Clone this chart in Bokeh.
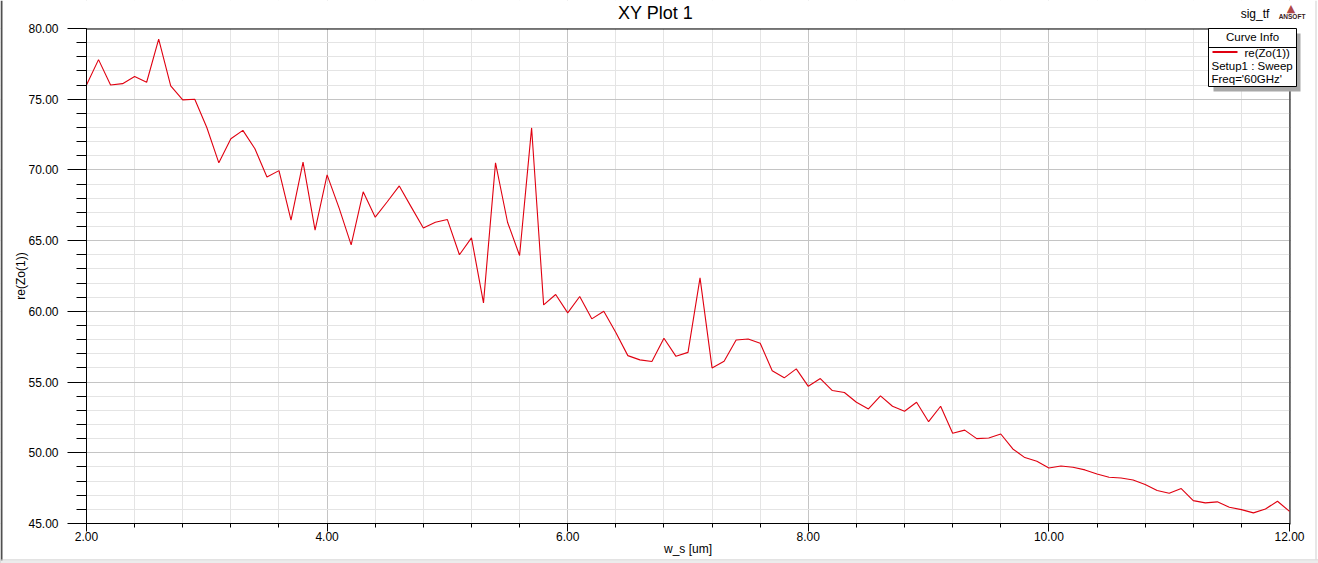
import math
from bokeh.plotting import figure
from bokeh.models import FixedTicker, PrintfTickFormatter, Label, BoxAnnotation, Range1d
from bokeh.embed import file_html
from bokeh.resources import INLINE

# ---------------- data ----------------
x_ws = [round(2.0 + 0.1 * i, 1) for i in range(101)]
re_zo = [
    76.0, 77.8, 76.0, 76.1, 76.6, 76.2, 79.25, 75.95, 74.95, 75.0,
    73.0, 70.5, 72.2, 72.8, 71.5, 69.5, 69.95, 66.45, 70.55, 65.75,
    69.65, 67.3, 64.7, 68.45, 66.66, 67.75, 68.87, 67.37, 65.9, 66.3,
    66.49, 64.0, 65.2, 60.6, 70.5, 66.3, 63.95, 72.97, 60.46, 61.19,
    59.89, 61.05, 59.47, 60.01, 58.5, 56.87, 56.57, 56.45, 58.1, 56.82,
    57.1, 62.37, 56.0, 56.47, 57.98, 58.05, 57.75, 55.8, 55.3, 55.93,
    54.7, 55.25, 54.4, 54.26, 53.57, 53.1, 54.02, 53.29, 52.94, 53.57,
    52.2, 53.29, 51.38, 51.6, 51.0, 51.05, 51.33, 50.27, 49.66, 49.4,
    48.93, 49.07, 48.98, 48.79, 48.5, 48.27, 48.22, 48.08, 47.75, 47.33,
    47.14, 47.47, 46.62, 46.46, 46.53, 46.15, 45.98, 45.75, 46.03, 46.57,
    45.86,
]
x_major = [2, 4, 6, 8, 10, 12]
x_minor = [round(2 + 0.4 * i, 1) for i in range(26)]
y_major = [45, 50, 55, 60, 65, 70, 75, 80]
y_minor = list(range(45, 81))

title_text = "XY Plot 1"
x_label = "w_s [um]"
y_label = "re(Zo(1))"
project_text = "sig_tf"
legend_title = "Curve Info"
legend_lines = ["re(Zo(1))", "Setup1 : Sweep", "Freq='60GHz'"]

# ---------------- layout ----------------
W, H = 1318, 563
X0, X1, Y0, Y1 = 2, 12, 45, 80
PX_L, PX_R, PX_T, PX_B = 86, 1289, 28, 523      # axis box in page pixels
FONT = "Liberation Sans"


def dx(px):
    return X0 + (px - PX_L) * (X1 - X0) / (PX_R - PX_L)


def dy(py):
    return Y1 - (py - PX_T) * (Y1 - Y0) / (PX_B - PX_T)


# the drawing area covers the whole canvas; the axes sit at fixed data locations
p = figure(width=W, height=H, x_range=Range1d(dx(0), dx(W)), y_range=Range1d(dy(H), dy(0)),
           output_backend="svg", toolbar_location=None, title=None,
           min_border=0, min_border_left=0, min_border_right=0,
           min_border_top=0, min_border_bottom=0)
p.background_fill_color = "white"
p.border_fill_color = "white"
p.outline_line_color = None

xt = FixedTicker(ticks=x_major, minor_ticks=x_minor)
yt = FixedTicker(ticks=y_major, minor_ticks=y_minor)
p.xaxis.ticker = xt
p.yaxis.ticker = yt
p.xgrid.ticker = xt
p.ygrid.ticker = yt
p.xaxis.formatter = PrintfTickFormatter(format="%.2f")
p.yaxis.formatter = PrintfTickFormatter(format="%.2f")
p.xaxis.bounds = (X0, X1)
p.yaxis.bounds = (Y0, Y1)
p.xaxis.fixed_location = Y0
p.yaxis.fixed_location = X0

for g in (p.xgrid, p.ygrid):
    g.grid_line_color = "#c4c4c4"
    g.grid_line_width = 1
    g.minor_grid_line_color = "#e4e4e4"
    g.minor_grid_line_width = 1

for ax in (p.xaxis, p.yaxis):
    ax.axis_line_color = "black"
    ax.major_tick_line_color = "black"
    ax.minor_tick_line_color = "black"
    ax.major_tick_in = 0
    ax.minor_tick_in = 0
    ax.major_label_text_font = FONT
    ax.major_label_text_font_size = "12px"
    ax.major_label_text_color = "black"
    ax.axis_label = None

p.yaxis.major_tick_out = 19
p.yaxis.minor_tick_out = 10
p.yaxis.major_label_standoff = 9
p.xaxis.major_tick_out = 8
p.xaxis.minor_tick_out = 4
p.xaxis.major_label_standoff = 0

p.line(x_ws, re_zo, line_color="#e00010", line_width=1.1)


def box(l, r, t, b, fill, line=None, lw=1, level="annotation"):
    p.add_layout(BoxAnnotation(left=dx(l), right=dx(r), top=dy(t), bottom=dy(b),
                               fill_color=fill, fill_alpha=1,
                               line_color=line if line else "black",
                               line_alpha=1 if line else 0, line_width=lw, level=level))


def lab(px, py, text, size="12px", align="left", style="normal", color="black",
        font=FONT, angle=0.0):
    p.add_layout(Label(x=dx(px), y=dy(py), text=text, text_align=align,
                       text_baseline="middle", text_font=font, angle=angle,
                       text_font_size=size, text_font_style=style, text_color=color))


# white margins around the axis box (hide grid lines outside it)
box(0, PX_L, 0, H, "white", level="underlay")
box(PX_R + 1, W, 0, H, "white", level="underlay")
box(0, W, 0, PX_T, "white", level="underlay")
box(0, W, PX_B + 1, H, "white", level="underlay")
# top and right edges of the axis box
box(PX_R, PX_R + 1, PX_T, PX_B + 1, "black", level="underlay")
box(PX_L, PX_R + 1, PX_T, PX_T + 1, "black", level="underlay")
# window edges
box(0, 2, 0, H, "#505050", level="underlay")
box(0, W, 559, 560, "#c8c8c8", level="underlay")
box(0, W, 560, H, "#ececec", level="underlay")
box(1315, 1316, 0, 559, "#d0d0d0", level="underlay")

# title and outer texts
lab(655, 12.5, title_text, size="18px", align="center")
lab(687.5, 548, x_label, align="center")
lab(20, 275.5, y_label, align="center", angle=math.pi / 2)
lab(1254.5, 13, project_text, align="center")
lab(1290.5, 7.5, "\u25B2", size="11px", align="center", color="#b04848", font="DejaVu Sans")
lab(1291.5, 15.5, "ANSOFT", size="6.5px", align="center", style="bold", color="#3a2020")

# legend box (Curve Info)
box(1213, 1300, 33, 91, "#a8a8a8")
box(1208, 1296, 28, 86, "white", line="black")
box(1208, 1296, 46.5, 47.5, "black")
box(1212, 1237, 50.5, 52.5, "#e00010")
lab(1252, 36, legend_title, size="11.5px", align="center")
lab(1244, 52, legend_lines[0], size="11.5px")
lab(1211, 65.5, legend_lines[1], size="11.5px")
lab(1211, 78, legend_lines[2], size="11.5px")

open("out.html", "w").write(file_html(p, INLINE))
